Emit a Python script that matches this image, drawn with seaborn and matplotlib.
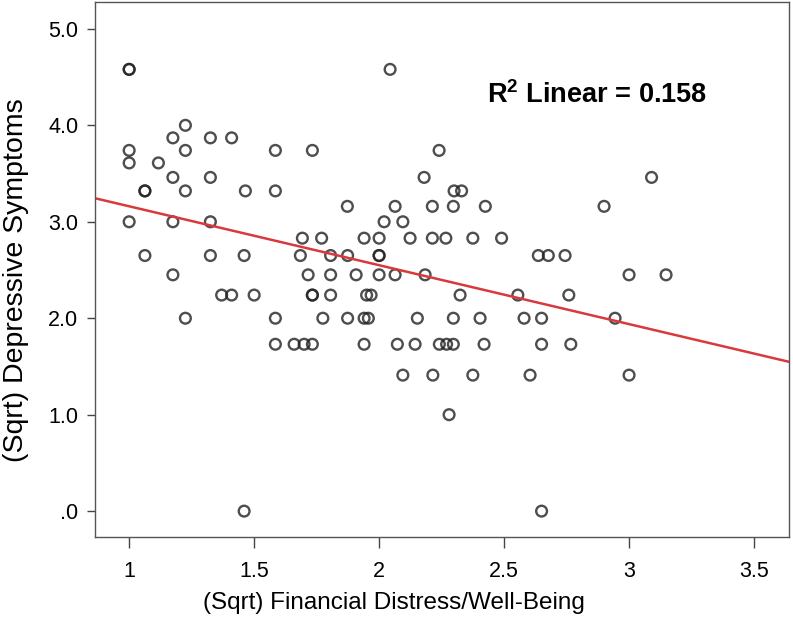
import matplotlib
matplotlib.use('Agg')
import matplotlib.pyplot as plt
import seaborn as sns
import pandas as pd

# (Sqrt) financial distress / well-being
financial = [
    1.0, 1.0, 1.225, 1.175, 1.325, 1.41, 1.0, 1.225, 1.585, 1.733,
    1.0, 1.117, 1.175, 1.325, 1.063, 1.063, 1.225, 1.465, 1.585, 1.0,
    1.175, 1.325, 1.693, 1.77, 1.063, 1.325, 1.46, 1.685, 1.175, 1.716,
    1.37, 1.41, 1.50, 1.733, 1.733, 1.225, 1.585, 1.585, 1.66, 1.70,
    1.733, 1.46, 2.044, 2.24, 2.18, 2.30, 2.33, 1.873, 2.064, 2.213,
    2.297, 2.425, 2.02, 2.095, 1.94, 2.0, 2.124, 2.213, 2.267, 2.375,
    2.49, 1.806, 1.874, 2.0, 2.0, 2.637, 2.677, 2.744, 1.806, 1.908,
    2.0, 2.064, 2.184, 3.0, 3.148, 1.806, 1.95, 1.968, 2.324, 2.555,
    2.759, 1.775, 1.874, 1.94, 1.957, 2.153, 2.297, 2.404, 2.58, 2.65,
    2.944, 1.94, 2.073, 2.144, 2.241, 2.27, 2.297, 2.42, 2.65, 2.767,
    2.095, 2.215, 2.375, 2.604, 3.0, 2.28, 2.65, 3.09, 2.90,
]

# (Sqrt) depressive symptoms
depressive = [
    4.58, 4.58, 4.0, 3.87, 3.87, 3.87, 3.74, 3.74, 3.74, 3.74,
    3.61, 3.61, 3.46, 3.46, 3.32, 3.32, 3.32, 3.32, 3.32, 3.0,
    3.0, 3.0, 2.83, 2.83, 2.65, 2.65, 2.65, 2.65, 2.45, 2.45,
    2.24, 2.24, 2.24, 2.24, 2.24, 2.0, 2.0, 1.73, 1.73, 1.73,
    1.73, 0.0, 4.58, 3.74, 3.46, 3.32, 3.32, 3.16, 3.16, 3.16,
    3.16, 3.16, 3.0, 3.0, 2.83, 2.83, 2.83, 2.83, 2.83, 2.83,
    2.83, 2.65, 2.65, 2.65, 2.65, 2.65, 2.65, 2.65, 2.45, 2.45,
    2.45, 2.45, 2.45, 2.45, 2.45, 2.24, 2.24, 2.24, 2.24, 2.24,
    2.24, 2.0, 2.0, 2.0, 2.0, 2.0, 2.0, 2.0, 2.0, 2.0,
    2.0, 1.73, 1.73, 1.73, 1.73, 1.73, 1.73, 1.73, 1.73, 1.73,
    1.41, 1.41, 1.41, 1.41, 1.41, 1.0, 0.0, 3.46, 3.16,
]

x_ticks = [1, 1.5, 2, 2.5, 3, 3.5]
x_tick_labels = ['1', '1.5', '2', '2.5', '3', '3.5']
y_ticks = [0, 1, 2, 3, 4, 5]
y_tick_labels = ['.0', '1.0', '2.0', '3.0', '4.0', '5.0']
r2_text = r'R$^{\mathbf{2}}$ Linear = 0.158'

df = pd.DataFrame({'financial': financial, 'depressive': depressive})

sns.set_style('white')
plt.rcParams['font.family'] = ['Liberation Sans', 'DejaVu Sans']
plt.rcParams['mathtext.fontset'] = 'custom'
plt.rcParams['mathtext.bf'] = 'Liberation Sans:bold'
plt.rcParams['mathtext.rm'] = 'Liberation Sans'

fig = plt.figure(figsize=(7.93, 6.21), dpi=100)
ax = fig.add_axes([0.12, 0.135, 0.875, 0.862])

# limits first so the fitted line runs edge to edge
ax.set_xlim(0.864, 3.64)
ax.set_ylim(-0.27, 5.28)

sns.regplot(data=df, x='financial', y='depressive', ax=ax, ci=None, truncate=False,
            scatter_kws=dict(s=60, facecolors='none', edgecolors='#222222', linewidths=1.7),
            line_kws=dict(color='#d9393b', linewidth=1.8))

ax.set_xlim(0.864, 3.64)
ax.set_ylim(-0.27, 5.28)
ax.set_xticks(x_ticks)
ax.set_xticklabels(x_tick_labels)
ax.set_yticks(y_ticks)
ax.set_yticklabels(y_tick_labels)
ax.tick_params(axis='x', bottom=True, length=8, width=1, color='#444444',
               labelsize=15.5, labelcolor='black', pad=9)
ax.tick_params(axis='y', left=True, length=6, width=1, color='#444444',
               labelsize=15.5, labelcolor='black', pad=6)

for side in ['left', 'bottom', 'top', 'right']:
    ax.spines[side].set_visible(True)
    ax.spines[side].set_color('#555555')
    ax.spines[side].set_linewidth(1.0)

ax.set_xlabel('(Sqrt) Financial Distress/Well-Being', fontsize=17.5, color='black')
ax.set_ylabel('(Sqrt) Depressive Symptoms', fontsize=20.5, color='black')
ax.xaxis.set_label_coords(0.431, -0.102)
ax.yaxis.set_label_coords(-0.096, 0.48)

ax.text(0.565, 0.826, r2_text, transform=ax.transAxes, fontsize=19.5, fontweight='bold',
        color='black', ha='left', va='center')

fig.savefig('out.png', dpi=100)
